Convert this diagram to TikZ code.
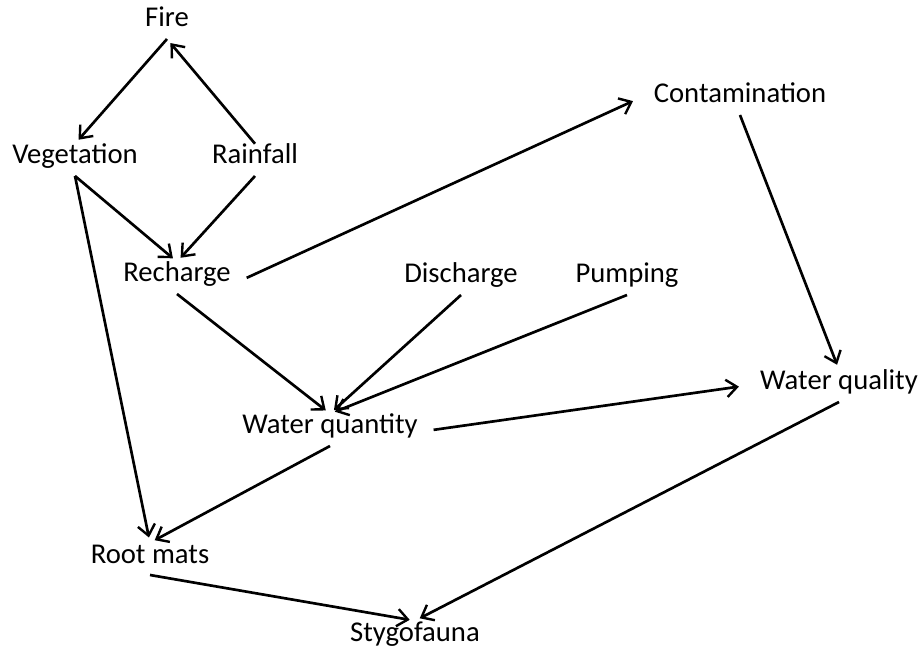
\documentclass[tikz,border=0pt]{standalone}
\usepackage{fontspec}
\setmainfont{Carlito}
\usetikzlibrary{arrows.meta}

\tikzset{every picture/.style={line width=2pt}}
\tikzset{
  lbl/.style={anchor=base, inner sep=0pt, outer xsep=12pt, outer ysep=9pt,
    text height=0.62em, text depth=0pt, font=\fontsize{21.5pt}{25pt}\selectfont},
  arr/.style={-{Straight Barb[length=8pt,width=13pt,line width=1.8pt]}, shorten >=4pt}
}

\begin{document}
\begin{tikzpicture}[x=0.75pt,y=0.75pt,yscale=-1,xscale=1]
	\useasboundingbox (0,0) rectangle (921,648); %set diagram size 921 x 648
	
	% Text Node
	\node [lbl] (fire) at (167,27) {Fire};
	% Text Node
	\node [lbl] (veg) at (75,164) {Vegetation};
	% Text Node
	\node [lbl] (rain) at (255,164) {Rainfall};
	% Text Node
	\node [lbl] (contam) at (740,103) {Contamination};
	% Text Node
	\node [lbl] (rech) at (177,282) {Recharge};
	% Text Node
	\node [lbl] (disch) at (461,283) {Discharge};
	% Text Node
	\node [lbl] (pump) at (627,283) {Pumping};
	% Text Node
	\node [lbl] (wquant) at (330,434) {Water quantity};
	% Text Node
	\node [lbl] (wqual) at (839,390) {Water quality};
	% Text Node
	\node [lbl] (roots) at (150,563) {Root mats};
	% Text Node
	\node [lbl] (stygo) at (415,641) {Stygofauna};
	
	%Straight Lines
	\draw [arr] (rain.north) -- (fire.south);
	\draw [arr] (fire.south) -- (veg.north);
	%Straight Lines
	\draw [arr] (veg.south) -- (rech.north);
	\draw [arr] (rain.south) -- (rech.north);
	\draw [arr] (veg.south) -- (roots.north);
	%Straight Lines
	\draw [arr] (rech.east) -- (contam.west);
	\draw [arr] (contam.south) -- (wqual.north);
	%Straight Lines
	\draw [arr] (rech.south) -- (wquant.north);
	\draw [arr] (disch.south) -- (wquant.north);
	\draw [arr] (pump.south) -- (wquant.north);
	%Straight Lines
	\draw [arr] (wquant.east) -- (wqual.west);
	\draw [arr] (wquant.south) -- (roots.north);
	%Straight Lines
	\draw [arr] (roots.south) -- (stygo.north);
	\draw [arr] (wqual.south) -- (stygo.north);
\end{tikzpicture}
\end{document}
